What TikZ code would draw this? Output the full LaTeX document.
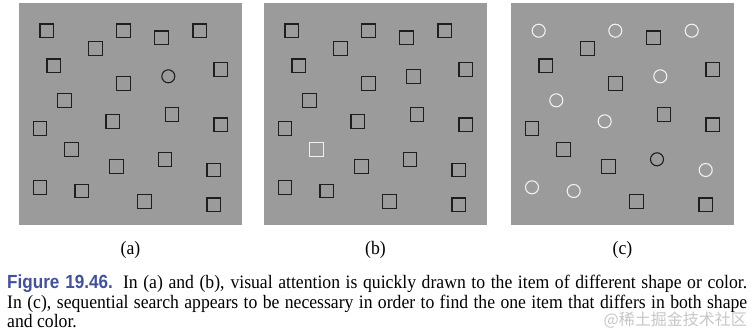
\documentclass[tikz,border=0pt]{standalone}
\usepackage{fontspec}
\setmainfont{Liberation Serif}
\newfontfamily\capserif[FakeStretch=0.93]{Liberation Serif}
\newfontfamily\capsans[FakeStretch=0.9]{Liberation Sans}
\newfontfamily\cjkfont{Noto Sans CJK SC}
\definecolor{panelGray}{RGB}{155,155,155}
\definecolor{itemDark}{RGB}{30,30,30}
\definecolor{itemLight}{RGB}{240,240,240}
\definecolor{capBlue}{RGB}{66,80,160}
\tikzset{
  sqdark/.style={draw=itemDark, line width=1.1pt, minimum size=13.5pt, inner sep=0pt},
  sqlight/.style={sqdark, draw=itemLight},
  ringdark/.style={sqdark, circle, minimum size=13pt},
  ringlight/.style={ringdark, draw=itemLight},
}
% item place inside a panel / kind in (a) / kind in (b) / kind in (c)
\def\itemlist{27.7/27.7/sqdark/sqdark/ringlight,
  76.3/45.3/sqdark/sqdark/sqdark,
  104.3/27.7/sqdark/sqdark/ringlight,
  142.3/34.7/sqdark/sqdark/sqdark,
  180.7/27.7/sqdark/sqdark/ringlight,
  34.7/62.7/sqdark/sqdark/sqdark,
  104.3/80.3/sqdark/sqdark/sqdark,
  149.3/73.3/ringdark/sqdark/ringlight,
  201.7/66.3/sqdark/sqdark/sqdark,
  45.3/97.3/sqdark/sqdark/ringlight,
  21/125.3/sqdark/sqdark/sqdark,
  93.7/118.3/sqdark/sqdark/ringlight,
  153/111.3/sqdark/sqdark/sqdark,
  201.7/121.7/sqdark/sqdark/sqdark,
  52.3/146.3/sqdark/sqlight/sqdark,
  97.3/163.3/sqdark/sqdark/sqdark,
  146/156.3/sqdark/sqdark/ringdark,
  194.7/167/sqdark/sqdark/ringlight,
  21/184.3/sqdark/sqdark/ringlight,
  62.7/188/sqdark/sqdark/ringlight,
  125.3/198.3/sqdark/sqdark/sqdark,
  194.7/201.7/sqdark/sqdark/sqdark}
\begin{document}
\begin{tikzpicture}[x=1pt, y=-1pt]
  \useasboundingbox (0,0) rectangle (752,333);

  % Grey panels
  \fill[panelGray] (19,3) rectangle ++(223,222);
  \fill[panelGray] (264,3) rectangle ++(223,222);
  \fill[panelGray] (511,3) rectangle ++(223,222);

  % Same places in all three panels, only the kind changes
  \foreach \x/\y/\ka/\kb/\kc [count=\i] in \itemlist {
    \node[\ka] (a\i) at (19+\x,3+\y) {};
    \node[\kb] (b\i) at (264+\x,3+\y) {};
    \node[\kc] (c\i) at (511+\x,3+\y) {};
  }

  % Panel labels
  \node[anchor=base, font=\capserif\fontsize{19}{20}\selectfont] (la) at (130.5,254) {(a)};
  \node[anchor=base, font=\capserif\fontsize{19}{20}\selectfont] (lb) at (375.5,254) {(b)};
  \node[anchor=base, font=\capserif\fontsize{19}{20}\selectfont] (lc) at (622.5,254) {(c)};

  % Caption
  \node[anchor=base west, inner sep=0pt, font=\capserif\fontsize{19}{20}\selectfont] (cap1) at (7,288)
    {\makebox[740pt][s]{{\capsans\bfseries\color{capBlue}Figure 19.46.}\hspace{10pt}In (a) and (b), visual attention is quickly drawn to the item of different shape or color.}};
  \node[anchor=base west, inner sep=0pt, font=\capserif\fontsize{19}{20}\selectfont] (cap2) at (7,308)
    {\makebox[740pt][s]{In (c), sequential search appears to be necessary in order to find the one item that differs in both shape}};
  \node[anchor=base west, inner sep=0pt, font=\capserif\fontsize{19}{20}\selectfont] (cap3) at (7,327) {and color.};

  % Watermark
  \node[anchor=base east, inner sep=0pt, text=gray!45, font=\cjkfont\fontsize{16}{16}\selectfont] (mark) at (747,325) {@稀土掘金技术社区};
\end{tikzpicture}
\end{document}
